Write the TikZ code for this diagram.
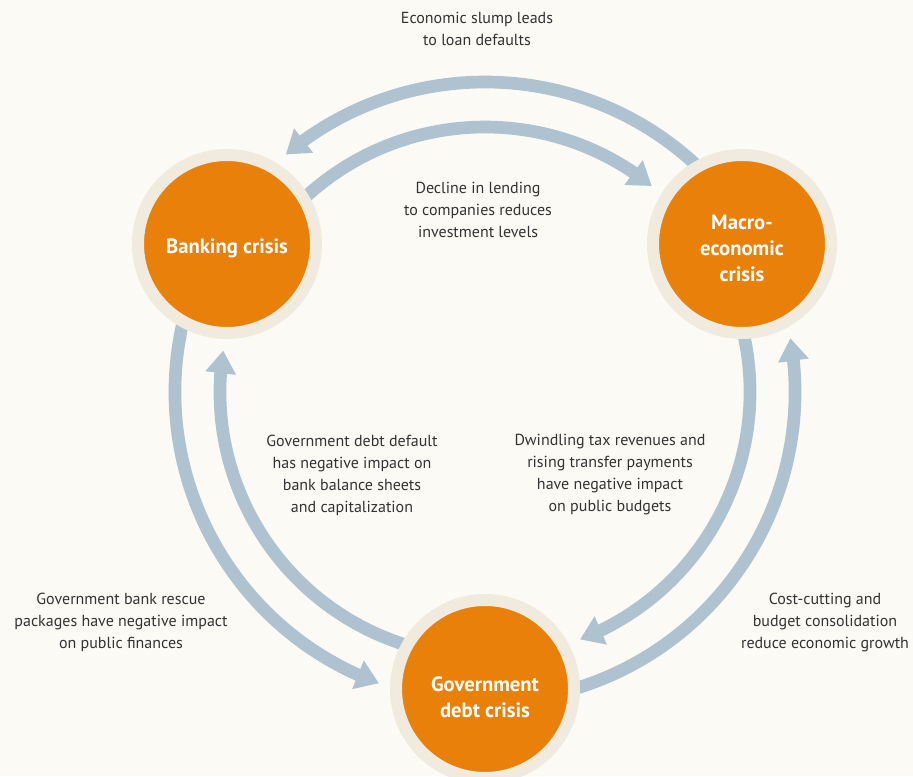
\documentclass[tikz,border=0pt]{standalone}
\usepackage{fontspec}
\setmainfont{PT Sans}
\usetikzlibrary{arrows.meta,bending,calc}
\definecolor{bgcream}{HTML}{FBFAF5}
\definecolor{crisisorange}{HTML}{E8800A}
\definecolor{ringbeige}{HTML}{F0EBDE}
\definecolor{flowblue}{HTML}{AEC3CF}
\definecolor{textgray}{HTML}{333333}
\tikzset{
  crisis/.style={circle,fill=crisisorange,draw=ringbeige,line width=9pt,
    minimum size=133.5pt,inner sep=0pt},
  crisislabel/.style={text=white,align=center,inner sep=0pt,
    font=\fontsize{15.5}{19.5}\selectfont\bfseries},
  flow/.style={draw=flowblue,line width=9.5pt,-{Triangle[length=17pt,width=22pt]}},
  caption/.style={text=textgray,align=center,font=\fontsize{12}{16.5}\selectfont}
}
\begin{document}
\begin{tikzpicture}[x=0.75pt,y=0.75pt]

\def\ro{310}
\def\ri{265}
\fill[bgcream] (0,0) rectangle (913,776);
\clip (0,0) rectangle (913,776);

\coordinate (o) at (485,384);
\foreach \r in {0,120,240}{
	\coordinate (out\r) at ($(o)+(45+\r:\ro)$);
	\coordinate (in\r) at ($(o)+(136+\r:\ri)$);
	\draw[flow] (out\r) arc[start angle=45+\r,end angle=130+\r,radius=\ro];
	\draw[flow] (in\r) arc[start angle=136+\r,end angle=51+\r,radius=\ri];
}

\node[crisis] (bank) at (227,532) {};
\node[crisis] (macro) at (742,532) {};
\node[crisis] (govt) at (485,87) {};
\node[crisislabel] (banklabel) at ([yshift=-3]bank.center) {Banking crisis};
\node[crisislabel] (macrolabel) at ([yshift=-3]macro.center) {Macro-\\economic\\crisis};
\node[crisislabel] (govtlabel) at ([yshift=-6]govt.center) {Government\\debt crisis};

\node[caption] (slump) at (477,747) {Economic slump leads\\to loan defaults};
\node[caption] (lending) at (478,566) {Decline in lending\\to companies reduces\\investment levels};
\node[caption] (default) at (352,301) {Government debt default\\has negative impact on\\bank balance sheets\\and capitalization};
\node[caption] (tax) at (610,301) {Dwindling tax revenues and\\rising transfer payments\\have negative impact\\on public budgets};
\node[caption] (rescue) at (121,154) {Government bank rescue\\packages have negative impact\\on public finances};
\node[caption] (cutting) at (825,154) {Cost-cutting and\\budget consolidation\\reduce economic growth};

\end{tikzpicture}
\end{document}
